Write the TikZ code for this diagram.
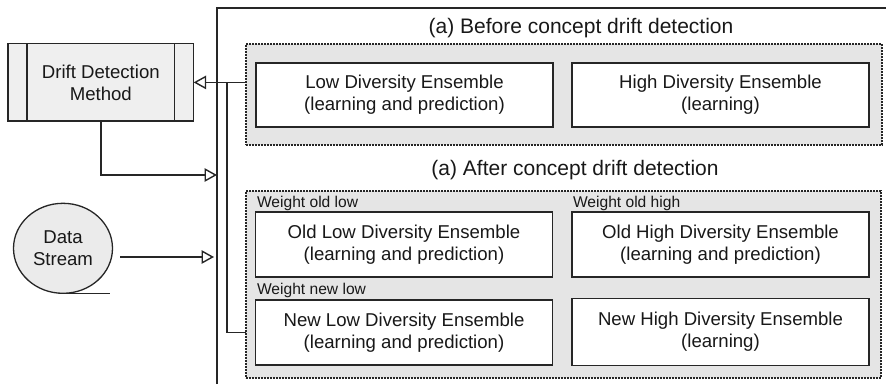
\documentclass[tikz,border=0pt]{standalone}
\usepackage{fontspec}
\setmainfont{Liberation Sans}
\usetikzlibrary{arrows.meta,shapes.geometric}
\definecolor{ink}{HTML}{262626}
\definecolor{txt}{HTML}{181818}
\definecolor{groupfill}{HTML}{E5E5E5}
\definecolor{ddmfill}{HTML}{EFEFEF}
\definecolor{dsfill}{HTML}{EBEBEB}
\begin{document}
\begin{tikzpicture}[x=1pt,y=-1pt,
  every node/.style={text=txt, inner sep=0pt, outer sep=0pt},
  group/.style={draw=ink, fill=groupfill, line width=1.1pt,
    dash pattern=on 1.6pt off 1.4pt, rectangle},
  ens/.style={draw=ink, fill=white, line width=1.4pt, rectangle, align=center,
    minimum width=297pt, minimum height=64pt,
    font=\fontsize{18.6}{22}\selectfont},
  grouptitle/.style={font=\fontsize{21}{24}\selectfont},
  weightlbl/.style={anchor=west, font=\fontsize{15.6}{18}\selectfont},
  link/.style={draw=ink, line width=1.4pt},
  arr/.style={link, -{Triangle[open, length=12.5pt, width=13.5pt, line width=1.4pt]}}
]
\useasboundingbox (0,0) rectangle (886,384);

% outer frame, open at the right and bottom
\draw[ink, line width=1.3pt] (217,384) -- (217,8) -- (886,8);

% ensemble groups
\node[group, minimum width=636pt, minimum height=101pt] (before) at (564,94.5) {};
\node[group, minimum width=635pt, minimum height=187pt] (after) at (563.5,284.5) {};

\node[grouptitle] (tbefore) at (581,28) {(a) Before concept drift detection};
\node[grouptitle] (tafter) at (575,170) {(a) After concept drift detection};

\node[ens] (blow) at (404.5,95) {Low Diversity Ensemble\\(learning and prediction)};
\node[ens] (bhigh) at (720.5,95) {High Diversity Ensemble\\(learning)};

\node[weightlbl] (wol) at (257,203) {Weight old low};
\node[weightlbl] (woh) at (573,203) {Weight old high};
\node[weightlbl] (wnl) at (257,290) {Weight new low};

\node[ens, minimum height=65pt] (olow) at (404,244.5) {Old Low Diversity Ensemble\\(learning and prediction)};
\node[ens, minimum height=65pt] (ohigh) at (720.5,244.5) {Old High Diversity Ensemble\\(learning and prediction)};
\node[ens, minimum height=65pt] (nlow) at (404,332.5) {New Low Diversity Ensemble\\(learning and prediction)};
\node[ens, minimum height=67pt] (nhigh) at (720.5,332) {New High Diversity Ensemble\\(learning)};

% drift detection method (predefined process)
\node[draw=ink, fill=ddmfill, line width=1.3pt, rectangle, align=center,
  minimum width=185.7pt, minimum height=77.3pt,
  font=\fontsize{18.6}{22}\selectfont] (ddm) at (100.8,82.4) {Drift Detection\\Method};
\draw[ink, line width=1.3pt] ([xshift=19pt]ddm.north west) -- ([xshift=19pt]ddm.south west);
\draw[ink, line width=1.3pt] ([xshift=-19pt]ddm.north east) -- ([xshift=-19pt]ddm.south east);

% data stream (sequential storage)
\node[ellipse, draw=ink, fill=dsfill, line width=1.3pt, align=center,
  minimum width=99pt, minimum height=90pt,
  font=\fontsize{18.6}{22}\selectfont] (ds) at (63,248.3) {Data\\Stream};
\draw[ink, line width=1.3pt] (ds.south) -- ++(47,0);

% connectors
\coordinate (bus) at (227,0);
\coordinate (frameA) at (217,175);
\coordinate (dsOut) at (120,257);
\coordinate (frameB) at (214,257);

\draw[arr] (before.west |- ddm.east) -- (ddm.east);
\draw[link] (after.west |- nlow.center) -| (bus |- ddm.east);
\draw[arr] (ddm.south) |- (frameA);
\draw[arr] (dsOut) -- (frameB);
\end{tikzpicture}
\end{document}
